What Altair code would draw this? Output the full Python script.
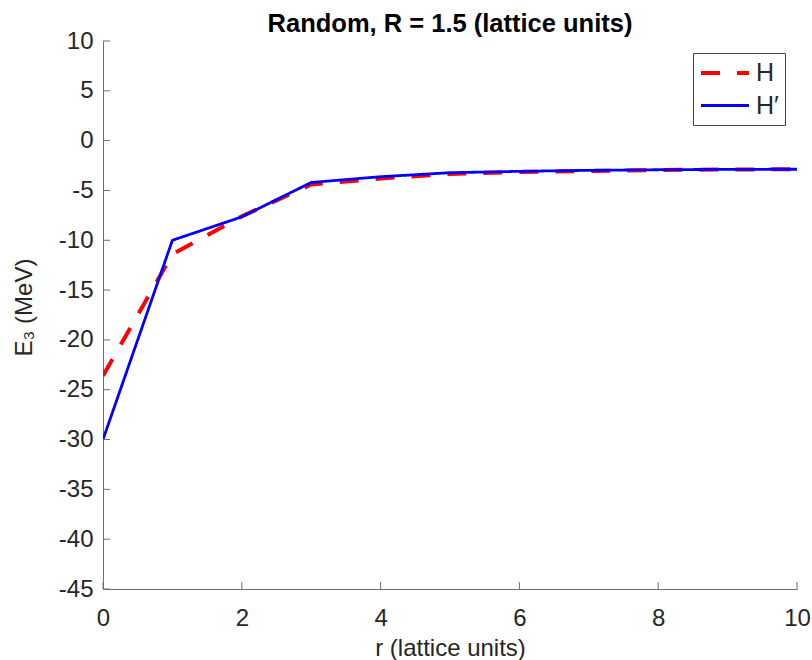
import altair as alt
import pandas as pd

r_values = [0, 1, 2, 3, 4, 5, 6, 7, 8, 9, 10]
e_h = [-23.6, -11.4, -7.6, -4.4, -3.8, -3.35, -3.15, -3.05, -2.95, -2.9, -2.87]
e_hp = [-30.0, -10.0, -7.65, -4.2, -3.62, -3.22, -3.08, -2.98, -2.92, -2.88, -2.87]
series_names = ["H", "H\u2032"]
x_ticks = [0, 2, 4, 6, 8, 10]
y_ticks = [10, 5, 0, -5, -10, -15, -20, -25, -30, -35, -40, -45]

rows = []
for r, a, b in zip(r_values, e_h, e_hp):
    rows.append({"r": r, "E": a, "series": series_names[0]})
    rows.append({"r": r, "E": b, "series": series_names[1]})
df = pd.DataFrame(rows)

FONT = "Liberation Sans"
AX = "#6e6e6e"

xs = alt.Scale(domain=[0, 10], nice=False)
ys = alt.Scale(domain=[-45, 10], nice=False)
x_axis = alt.Axis(values=x_ticks, title="r (lattice units)", ticks=False, grid=False,
                  labelPadding=17, labelFlush=False, labelExpr="toString(datum.value)",
                  titleX=347, titleY=66, titleBaseline="alphabetic")
y_axis = alt.Axis(values=y_ticks, title="E\u2083 (MeV)", ticks=False, grid=False,
                  labelPadding=10, labelFlush=False, labelExpr="toString(datum.value)",
                  titleX=-72, titleY=266, titleBaseline="alphabetic",
                  titleAngle=-90, titleAlign="center")

leg = alt.Legend(title=None, orient="none", legendX=590, legendY=12)
lines = alt.Chart(df).mark_line(clip=True).encode(
    x=alt.X("r:Q", scale=xs, axis=x_axis),
    y=alt.Y("E:Q", scale=ys, axis=y_axis),
    color=alt.Color("series:N", scale=alt.Scale(domain=series_names, range=["#ff0000", "#0000ff"]),
                    legend=leg),
    strokeDash=alt.StrokeDash("series:N", scale=alt.Scale(domain=series_names, range=[[19, 17], [1, 0]]),
                              legend=leg),
    strokeWidth=alt.StrokeWidth("series:N", scale=alt.Scale(domain=series_names, range=[4, 2.8]), legend=None),
)

yt = alt.Chart(pd.DataFrame({"E": y_ticks})).mark_rule(color=AX, strokeWidth=1).encode(
    y=alt.Y("E:Q", scale=ys, axis=y_axis), x=alt.value(0), x2=alt.value(7))
xt = alt.Chart(pd.DataFrame({"r": x_ticks})).mark_rule(color=AX, strokeWidth=1).encode(
    x=alt.X("r:Q", scale=xs, axis=x_axis), y=alt.value(548), y2=alt.value(541))

chart = alt.layer(lines, yt, xt).properties(
    width=694, height=548,
    title=alt.TitleParams("Random, R = 1.5 (lattice units)", fontSize=25.5, fontWeight="bold",
                          font=FONT, color="#000000", anchor="middle", offset=9, dy=17),
    autosize=alt.AutoSizeParams(type="none"),
    padding={"left": 103, "top": 41, "right": 15, "bottom": 71},
).configure_view(stroke=None).configure_axis(
    domainColor=AX, domainWidth=1, labelFont=FONT, labelFontSize=24, labelColor="#262626",
    titleFont=FONT, titleFontSize=24, titleColor="#262626", titleFontWeight="normal",
).configure_legend(
    labelFont=FONT, labelFontSize=25, labelColor="#262626", strokeColor="#444444",
    fillColor="#ffffff", padding=6, symbolType="M-1,0H3", symbolSize=576,
    symbolStrokeWidth=3.5, labelOffset=29, rowPadding=6, cornerRadius=0,
)

chart.save("out.html", embed_options={"renderer": "svg", "actions": False})
